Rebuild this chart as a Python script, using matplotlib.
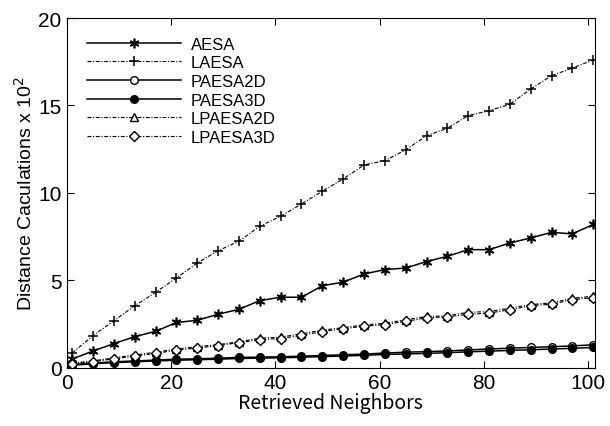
import numpy as np
import matplotlib
matplotlib.use('Agg')
import matplotlib.pyplot as plt

# Datos (distancias x 10^2)
vecinos = list(range(1, 102, 4))

aesa = [0.51, 0.97, 1.39, 1.79, 2.09, 2.60, 2.72, 3.07, 3.35, 3.85, 4.04, 4.04, 4.70,
        4.90, 5.37, 5.62, 5.71, 6.08, 6.38, 6.76, 6.76, 7.14, 7.43, 7.75, 7.66, 8.20]
laesa = [0.86, 1.85, 2.70, 3.56, 4.32, 5.14, 6.00, 6.70, 7.24, 8.10, 8.67, 9.37, 10.10,
         10.80, 11.60, 11.85, 12.46, 13.27, 13.70, 14.42, 14.70, 15.07, 15.94, 16.70, 17.14, 17.60]
paesa2d = [0.20, 0.28, 0.35, 0.40, 0.45, 0.50, 0.52, 0.56, 0.60, 0.62, 0.64, 0.67, 0.71,
           0.75, 0.79, 0.85, 0.90, 0.93, 0.97, 1.03, 1.08, 1.13, 1.17, 1.21, 1.26, 1.32]
paesa3d = [0.15, 0.24, 0.30, 0.35, 0.40, 0.44, 0.47, 0.50, 0.54, 0.56, 0.58, 0.61, 0.65,
           0.68, 0.72, 0.77, 0.80, 0.83, 0.87, 0.92, 0.96, 1.00, 1.04, 1.08, 1.12, 1.17]
lpaesa2d = [0.28, 0.40, 0.58, 0.74, 0.90, 1.08, 1.22, 1.33, 1.50, 1.70, 1.76, 1.95, 2.16,
            2.30, 2.46, 2.55, 2.75, 2.94, 2.98, 3.18, 3.22, 3.42, 3.62, 3.72, 3.98, 4.10]
lpaesa3d = [0.22, 0.36, 0.52, 0.67, 0.83, 1.02, 1.14, 1.27, 1.45, 1.62, 1.68, 1.86, 2.08,
            2.24, 2.38, 2.48, 2.66, 2.86, 2.92, 3.06, 3.14, 3.32, 3.56, 3.64, 3.90, 4.02]

plt.rcParams['font.family'] = ['Liberation Sans', 'DejaVu Sans']

fig = plt.figure(figsize=(6.1, 4.27), dpi=100)
ax = fig.add_axes([0.110, 0.136, 0.865, 0.8195])

guion_punto = (3.5, 1.5, 1, 1.5)
asterisco = (6, 2, 0)

ax.plot(vecinos, aesa, color='black', lw=1.1, marker=asterisco, ms=7, mew=1.2, label='AESA')
ax.plot(vecinos, laesa, color='black', lw=0.8, dashes=guion_punto, marker='+', ms=7.5, mew=1.1, label='LAESA')
ax.plot(vecinos, paesa2d, color='black', lw=1.1, marker='o', ms=5.5, mfc='white', label='PAESA2D')
ax.plot(vecinos, paesa3d, color='black', lw=1.1, marker='o', ms=5.5, mfc='black', label='PAESA3D')
ax.plot(vecinos, lpaesa2d, color='black', lw=0.8, dashes=guion_punto, marker='^', ms=5.5, mfc='white', label='LPAESA2D')
ax.plot(vecinos, lpaesa3d, color='black', lw=0.8, dashes=guion_punto, marker='D', ms=5, mfc='white', label='LPAESA3D')

ax.set_xlim(0, 101.3)
ax.set_ylim(0, 20)
ax.set_xticks([0, 20, 40, 60, 80, 100])
ax.set_yticks([0, 5, 10, 15, 20])
ax.tick_params(direction='in', top=True, right=True, length=5, labelsize=15, pad=4)

ax.set_xlabel('Retrieved Neighbors', fontsize=14, family=['Noto Sans CJK JP', 'DejaVu Sans'], labelpad=0)
ax.set_ylabel('Distance Caculations x 10$^2$', fontsize=14, labelpad=2)

ax.legend(loc='upper left', frameon=False, fontsize=12, handlelength=5.6,
          handletextpad=0.6, labelspacing=0.22, borderaxespad=0.5,
          bbox_to_anchor=(0.01, 0.99))

fig.savefig('out.png', dpi=100)
